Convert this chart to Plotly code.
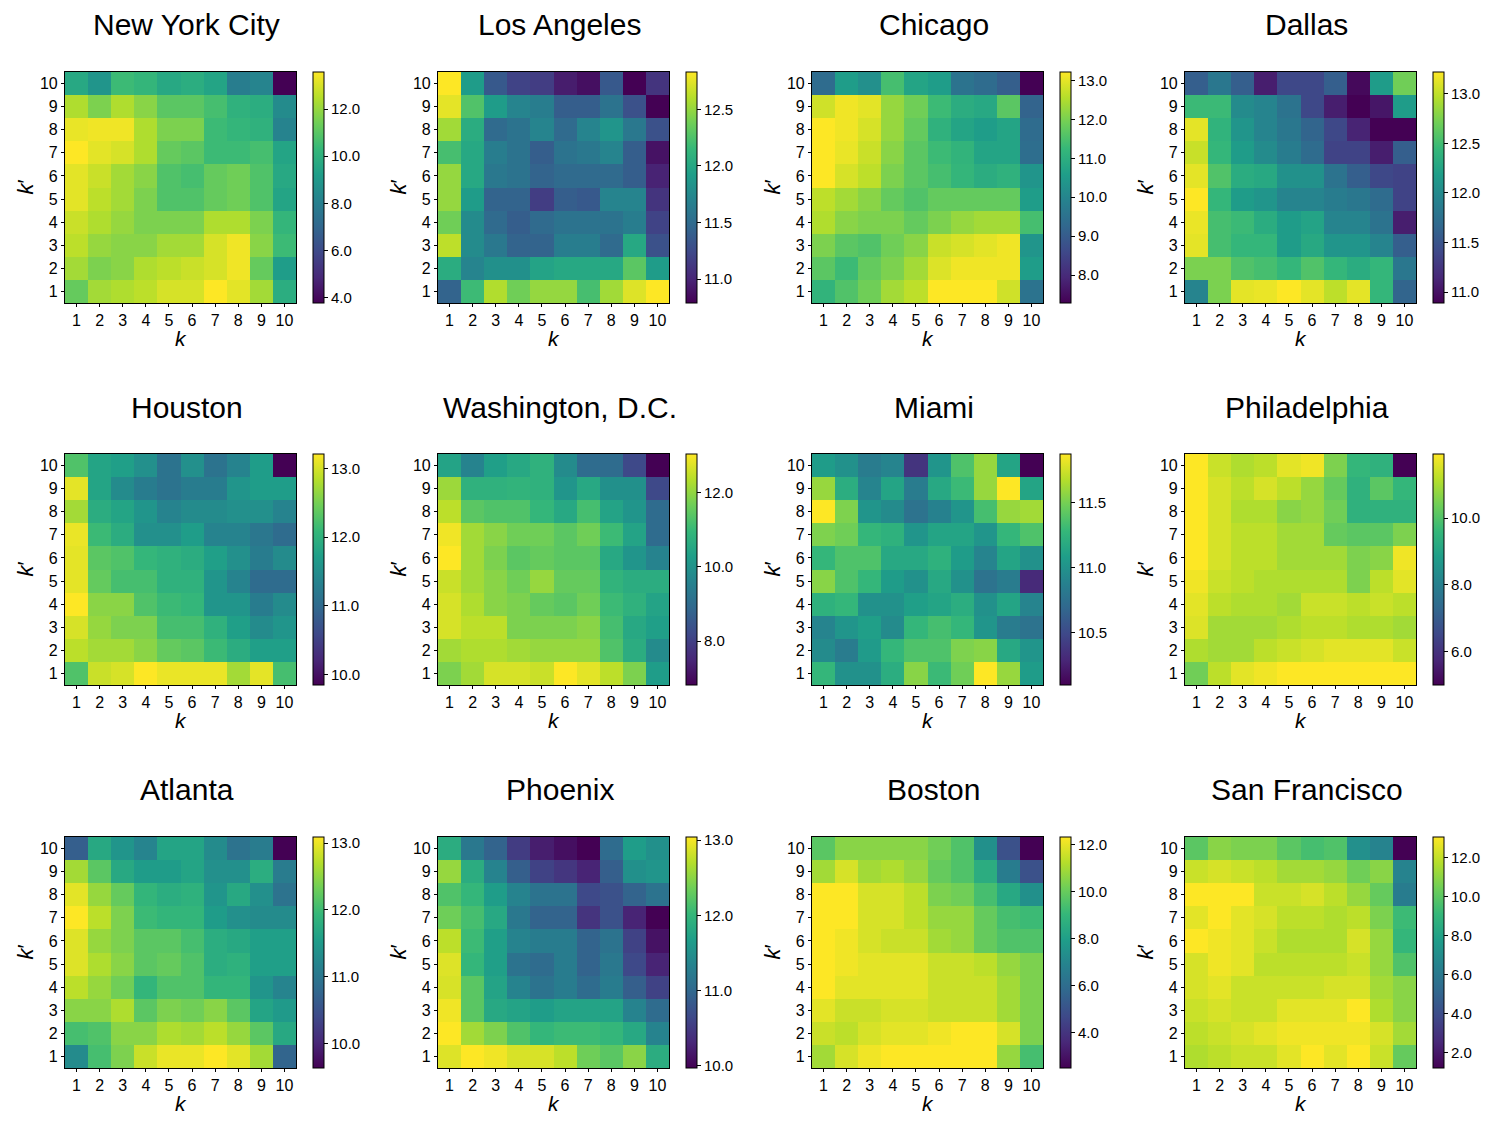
import plotly.graph_objects as go

cities = ["New York City", "Los Angeles", "Chicago", "Dallas",
          "Houston", "Washington, D.C.", "Miami", "Philadelphia",
          "Atlanta", "Phoenix", "Boston", "San Francisco"]

k_vals = list(range(1, 11))
kp_vals = list(range(10, 0, -1))  # rows below go from k'=10 (top) to k'=1 (bottom)

nyc = [
    [9.65, 8.87, 10.44, 10.24, 9.65, 9.85, 9.46, 7.90, 8.20, 3.76],
    [12.40, 11.62, 12.40, 11.81, 11.03, 11.03, 10.63, 10.04, 9.85, 8.47],
    [13.28, 13.38, 13.38, 12.40, 11.62, 11.62, 10.44, 10.24, 10.04, 8.18],
    [13.58, 13.19, 12.99, 12.40, 11.22, 11.03, 10.44, 10.44, 10.63, 9.46],
    [13.19, 12.79, 12.21, 11.81, 10.83, 10.63, 11.22, 11.42, 10.83, 9.65],
    [13.19, 12.60, 12.21, 11.62, 10.83, 10.83, 11.22, 11.42, 10.83, 9.46],
    [12.79, 12.40, 12.01, 11.62, 11.62, 11.62, 12.40, 12.40, 11.62, 10.24],
    [12.60, 12.01, 11.81, 11.81, 12.21, 12.21, 12.99, 13.38, 11.81, 10.44],
    [12.21, 11.62, 11.81, 12.40, 12.60, 12.79, 12.99, 13.38, 11.22, 9.16],
    [11.22, 12.21, 12.40, 12.60, 12.99, 12.99, 13.58, 13.19, 12.21, 9.85],
]

los_angeles = [
    [12.83, 11.91, 11.36, 11.20, 11.16, 10.95, 10.87, 11.36, 10.79, 11.10],
    [12.75, 12.26, 11.91, 11.71, 11.65, 11.40, 11.40, 11.57, 11.30, 10.79],
    [12.54, 12.05, 11.50, 11.57, 11.71, 11.50, 11.71, 11.85, 11.61, 11.30],
    [12.22, 12.01, 11.65, 11.57, 11.40, 11.57, 11.61, 11.71, 11.40, 10.89],
    [12.50, 12.01, 11.61, 11.57, 11.44, 11.50, 11.50, 11.50, 11.40, 10.99],
    [12.50, 11.91, 11.44, 11.44, 11.16, 11.40, 11.36, 11.71, 11.71, 11.10],
    [12.38, 11.77, 11.50, 11.40, 11.50, 11.57, 11.57, 11.57, 11.65, 11.20],
    [12.63, 11.77, 11.61, 11.44, 11.44, 11.65, 11.65, 11.50, 12.01, 11.30],
    [12.05, 11.71, 11.81, 11.81, 11.97, 12.01, 12.01, 12.01, 12.30, 11.91],
    [11.44, 12.18, 12.59, 12.38, 12.50, 12.50, 12.22, 12.54, 12.73, 12.83],
]

chicago = [
    [9.36, 10.55, 10.25, 11.44, 10.73, 10.55, 9.54, 9.36, 9.06, 7.28],
    [12.80, 13.10, 12.98, 12.27, 11.91, 11.32, 10.96, 10.84, 11.68, 9.18],
    [13.22, 13.10, 12.86, 12.27, 11.79, 11.08, 10.73, 10.55, 10.73, 9.36],
    [13.22, 13.04, 12.74, 12.15, 11.68, 11.32, 11.14, 10.73, 10.73, 9.42],
    [13.22, 12.86, 12.63, 12.03, 11.68, 11.44, 11.20, 10.96, 11.08, 10.37],
    [12.63, 12.39, 12.15, 11.79, 11.56, 11.79, 11.79, 11.79, 11.79, 10.55],
    [12.51, 12.15, 12.03, 12.03, 11.79, 12.03, 12.27, 12.39, 12.39, 11.44],
    [12.03, 11.68, 11.56, 11.91, 12.15, 12.74, 12.86, 12.98, 13.10, 10.37],
    [11.68, 11.32, 11.79, 12.03, 12.39, 12.92, 13.10, 13.10, 13.10, 10.55],
    [11.14, 11.56, 11.91, 12.39, 12.63, 13.22, 13.22, 13.22, 12.80, 9.54],
]

dallas = [
    [11.59, 11.82, 11.59, 11.08, 11.40, 11.40, 11.59, 10.94, 12.17, 12.71],
    [12.47, 12.47, 12.01, 11.94, 11.78, 11.40, 11.08, 10.89, 11.03, 12.17],
    [13.13, 12.40, 12.10, 11.94, 11.82, 11.64, 11.40, 11.12, 10.89, 10.89],
    [13.03, 12.43, 12.17, 12.01, 11.87, 11.71, 11.36, 11.36, 11.08, 11.59],
    [13.13, 12.57, 12.33, 12.29, 12.06, 12.06, 11.78, 11.59, 11.40, 11.36],
    [13.22, 12.43, 12.17, 12.10, 11.94, 11.94, 11.87, 11.82, 11.71, 11.36],
    [13.15, 12.52, 12.47, 12.33, 12.17, 12.24, 11.94, 11.94, 11.78, 11.08],
    [13.13, 12.52, 12.43, 12.43, 12.17, 12.29, 12.10, 12.10, 11.94, 11.59],
    [12.75, 12.75, 12.57, 12.52, 12.43, 12.57, 12.43, 12.33, 12.43, 11.82],
    [11.94, 12.75, 13.13, 13.15, 13.22, 13.13, 12.99, 13.13, 12.43, 11.64],
]

houston = [
    [12.27, 11.80, 11.73, 11.53, 11.13, 11.53, 11.13, 11.36, 11.70, 9.85],
    [13.08, 11.80, 11.46, 11.26, 11.13, 11.26, 11.26, 11.60, 11.70, 11.70],
    [12.74, 11.93, 11.80, 11.60, 11.36, 11.46, 11.46, 11.53, 11.53, 11.36],
    [13.11, 12.13, 11.93, 11.53, 11.53, 11.70, 11.36, 11.36, 11.19, 11.03],
    [13.08, 12.34, 12.27, 12.07, 12.00, 11.93, 11.73, 11.53, 11.26, 11.46],
    [13.08, 12.40, 12.20, 12.20, 12.00, 12.00, 11.60, 11.36, 11.03, 11.03],
    [13.21, 12.61, 12.61, 12.27, 12.13, 12.07, 11.60, 11.60, 11.26, 11.46],
    [13.01, 12.67, 12.54, 12.54, 12.20, 12.20, 12.00, 11.73, 11.46, 11.60],
    [12.87, 12.74, 12.74, 12.61, 12.40, 12.34, 12.13, 11.93, 11.73, 11.73],
    [12.27, 12.94, 13.01, 13.21, 13.11, 13.11, 13.11, 12.74, 13.08, 12.20],
]

washington = [
    [10.42, 9.61, 10.30, 10.55, 10.79, 9.80, 8.99, 8.99, 8.19, 6.82],
    [12.10, 10.79, 10.79, 10.86, 10.79, 10.05, 10.55, 9.93, 9.93, 8.19],
    [12.41, 11.42, 11.29, 11.29, 10.92, 10.55, 11.17, 10.42, 10.05, 8.99],
    [12.91, 12.16, 11.91, 11.66, 11.66, 11.42, 11.66, 11.04, 10.42, 8.99],
    [13.03, 12.16, 11.79, 11.42, 11.54, 11.42, 11.42, 10.55, 10.05, 9.61],
    [12.53, 12.16, 11.91, 11.66, 12.04, 11.54, 11.54, 10.86, 10.67, 10.67],
    [12.66, 12.28, 11.91, 11.79, 11.54, 11.42, 11.66, 11.04, 10.79, 10.42],
    [12.66, 12.41, 12.41, 11.79, 11.79, 11.79, 11.91, 11.17, 10.55, 10.30],
    [12.16, 12.28, 12.28, 12.16, 12.04, 12.04, 12.04, 11.29, 10.67, 9.80],
    [11.79, 12.16, 12.66, 12.66, 12.53, 13.03, 12.78, 12.41, 11.79, 10.24],
]

miami = [
    [11.07, 10.99, 10.84, 10.90, 10.37, 11.02, 11.37, 11.59, 11.13, 10.10],
    [11.59, 11.20, 10.90, 11.13, 10.84, 11.16, 11.30, 11.59, 11.87, 11.13],
    [11.87, 11.52, 11.02, 10.95, 10.77, 10.88, 11.02, 11.34, 11.59, 11.62],
    [11.52, 11.48, 11.27, 11.23, 11.02, 11.13, 11.13, 11.02, 11.27, 11.37],
    [11.27, 11.37, 11.37, 11.16, 11.16, 11.23, 11.07, 10.90, 11.13, 10.99],
    [11.55, 11.37, 11.27, 11.07, 10.99, 11.16, 10.99, 10.77, 10.84, 10.31],
    [11.23, 11.27, 10.99, 10.99, 11.09, 11.13, 11.20, 10.99, 11.13, 10.90],
    [10.90, 11.02, 11.09, 10.95, 11.27, 11.34, 11.27, 11.02, 10.84, 10.77],
    [10.95, 10.84, 11.06, 11.27, 11.37, 11.37, 11.52, 11.55, 11.16, 11.02],
    [11.27, 10.99, 10.99, 11.20, 11.55, 11.30, 11.48, 11.87, 11.59, 11.07],
]

philadelphia = [
    [11.92, 11.37, 11.09, 11.23, 11.64, 11.78, 10.54, 9.57, 9.43, 5.00],
    [11.92, 11.50, 11.23, 11.50, 11.23, 10.81, 10.26, 9.43, 10.12, 9.57],
    [11.92, 11.50, 11.09, 11.09, 10.67, 10.81, 10.40, 9.43, 9.43, 9.43],
    [11.92, 11.50, 11.23, 11.23, 10.95, 10.95, 10.26, 10.12, 10.12, 10.54],
    [11.92, 11.50, 11.23, 11.23, 10.95, 10.95, 10.95, 10.54, 10.67, 11.78],
    [11.78, 11.37, 11.23, 11.09, 11.09, 11.09, 11.09, 10.54, 11.23, 11.64],
    [11.64, 11.23, 11.09, 11.09, 10.95, 11.37, 11.37, 11.23, 11.37, 11.23],
    [11.57, 10.95, 10.95, 10.95, 11.09, 11.23, 11.23, 11.09, 11.09, 10.95],
    [11.09, 10.95, 10.95, 11.23, 11.37, 11.50, 11.64, 11.64, 11.64, 11.37],
    [10.40, 11.23, 11.64, 11.78, 11.92, 11.92, 11.92, 11.92, 11.92, 11.92],
]

atlanta = [
    [10.67, 11.71, 11.43, 11.19, 11.64, 11.64, 11.29, 10.94, 11.08, 9.63],
    [12.61, 12.19, 11.71, 11.53, 11.53, 11.64, 11.36, 11.36, 11.78, 11.08],
    [12.95, 12.54, 12.26, 11.91, 11.78, 11.84, 11.43, 11.71, 11.36, 10.94],
    [13.09, 12.74, 12.40, 11.98, 11.91, 11.91, 11.53, 11.36, 11.29, 11.29],
    [12.92, 12.54, 12.40, 12.19, 12.19, 12.05, 11.78, 11.71, 11.57, 11.57],
    [12.92, 12.67, 12.47, 12.19, 12.26, 12.12, 11.78, 11.84, 11.57, 11.57],
    [12.74, 12.54, 12.33, 11.91, 12.12, 12.12, 11.91, 11.91, 11.43, 11.19],
    [12.47, 12.47, 12.67, 12.19, 12.40, 12.33, 12.47, 12.19, 11.64, 11.50],
    [12.05, 12.12, 12.47, 12.47, 12.67, 12.61, 12.74, 12.54, 12.19, 11.71],
    [11.29, 12.05, 12.40, 12.81, 12.99, 12.99, 13.09, 12.95, 12.61, 10.74],
]

phoenix = [
    [11.87, 11.20, 10.95, 10.52, 10.22, 10.09, 9.97, 11.04, 11.66, 11.51],
    [12.55, 11.87, 11.35, 10.89, 10.58, 10.46, 10.28, 10.89, 11.51, 11.57],
    [12.18, 12.00, 11.66, 11.35, 11.14, 11.14, 10.65, 10.74, 10.95, 11.14],
    [12.36, 12.12, 11.81, 11.20, 10.95, 10.95, 10.43, 10.74, 10.28, 9.97],
    [12.73, 12.06, 11.69, 11.35, 11.26, 11.26, 10.95, 11.14, 10.58, 10.12],
    [12.89, 12.00, 11.69, 11.14, 11.04, 11.26, 10.95, 11.20, 10.65, 10.28],
    [12.86, 12.24, 11.75, 11.35, 11.14, 11.26, 11.04, 11.26, 10.89, 10.58],
    [12.98, 12.24, 11.81, 11.75, 11.66, 11.75, 11.75, 11.75, 11.35, 11.04],
    [13.04, 12.61, 12.43, 12.18, 12.00, 12.06, 12.06, 12.00, 11.81, 11.35],
    [12.89, 13.04, 12.98, 12.86, 12.86, 12.73, 12.36, 12.24, 12.49, 11.87],
]

boston = [
    [9.75, 10.54, 10.54, 10.54, 10.54, 10.15, 9.56, 7.40, 4.94, 2.48],
    [10.93, 11.72, 10.93, 11.13, 10.74, 9.95, 9.56, 8.57, 6.61, 4.94],
    [12.31, 12.31, 11.72, 11.72, 11.33, 10.34, 10.15, 9.36, 8.38, 7.40],
    [12.31, 12.31, 11.72, 11.72, 11.33, 10.74, 10.74, 9.95, 9.36, 9.16],
    [12.31, 12.11, 11.72, 11.52, 11.52, 10.93, 10.74, 9.95, 9.56, 9.56],
    [12.31, 12.11, 11.92, 11.92, 11.92, 11.52, 11.52, 11.33, 10.74, 10.34],
    [12.31, 11.92, 11.92, 11.92, 11.92, 11.52, 11.52, 11.52, 10.93, 10.34],
    [11.92, 11.52, 11.52, 11.72, 11.72, 11.52, 11.52, 11.52, 10.93, 10.34],
    [11.52, 11.33, 11.72, 11.92, 11.92, 12.11, 12.31, 12.31, 11.72, 10.34],
    [10.93, 11.72, 12.11, 12.31, 12.31, 12.31, 12.31, 12.31, 10.74, 9.36],
]

san_francisco = [
    [9.98, 10.93, 10.69, 10.69, 9.98, 9.50, 9.74, 7.13, 6.54, 1.20],
    [12.11, 12.35, 12.11, 11.87, 11.40, 11.40, 11.16, 10.45, 10.93, 6.54],
    [13.06, 13.06, 13.06, 12.11, 12.11, 12.35, 11.87, 11.16, 10.21, 6.18],
    [12.59, 13.06, 12.59, 12.35, 11.87, 11.87, 11.64, 11.87, 10.69, 9.26],
    [13.06, 12.82, 12.59, 12.11, 11.64, 11.64, 11.64, 12.35, 11.16, 9.03],
    [12.35, 12.82, 12.59, 11.87, 11.87, 11.87, 11.87, 12.11, 11.16, 9.74],
    [12.35, 12.59, 12.11, 12.11, 12.11, 12.11, 12.35, 12.35, 11.40, 10.93],
    [12.11, 12.35, 12.11, 12.11, 12.59, 12.59, 12.59, 13.06, 11.64, 10.93],
    [11.87, 12.11, 12.35, 12.59, 12.82, 12.82, 12.82, 12.82, 12.35, 11.40],
    [11.64, 11.87, 12.11, 12.11, 12.59, 13.06, 12.59, 13.06, 12.11, 10.21],
]

matrices = [nyc, los_angeles, chicago, dallas, houston, washington,
            miami, philadelphia, atlanta, phoenix, boston, san_francisco]
cbar_steps = [2, 0.5, 1, 0.5, 1, 2, 0.5, 2, 1, 1, 2, 2]

# the page body has an 8px margin, so page pixels are shifted by OFF
OFF = 8
W, H = 1494 - 2 * OFF, 1125 - 2 * OFF
col_x = [65, 438, 812, 1185]   # left edge of each heatmap, page px
row_y = [72, 454, 837]         # top edge of each heatmap, page px
SIZE = 231
FONT = "Arial, Liberation Sans, sans-serif"


def px(p):
    return (p - OFF) / W


def py(p):
    return 1 - (p - OFF) / H


fig = go.Figure()
annotations = []

for i, (city, z) in enumerate(zip(cities, matrices)):
    r, c = divmod(i, 4)
    x0, y0 = col_x[c], row_y[r]
    n = "" if i == 0 else str(i + 1)

    fig.add_trace(go.Heatmap(
        z=z, x=k_vals, y=kp_vals,
        colorscale="Viridis",
        xaxis="x" + n, yaxis="y" + n,
        colorbar=dict(
            x=px(x0 + 248), xanchor="left",
            y=py(y0), yanchor="top",
            len=SIZE / H, lenmode="fraction",
            thickness=11, xpad=0, ypad=0,
            outlinewidth=1, outlinecolor="black",
            ticks="outside", ticklen=4, tickcolor="black",
            tickmode="linear", tick0=0, dtick=cbar_steps[i],
            tickformat=".1f",
            tickfont=dict(size=15, color="black", family=FONT),
        ),
    ))

    axis_common = dict(
        range=[0.5, 10.5], tickvals=k_vals,
        ticks="outside", ticklen=3, tickcolor="black",
        showline=True, linecolor="black", linewidth=1.2, mirror=True,
        showgrid=False, zeroline=False,
        tickfont=dict(size=16, color="black", family=FONT),
    )
    fig.layout["xaxis" + n] = dict(axis_common, anchor="y" + n,
                                   domain=[px(x0), px(x0 + SIZE)])
    fig.layout["yaxis" + n] = dict(axis_common, anchor="x" + n,
                                   domain=[py(y0 + SIZE), py(y0)])

    cx = px(x0 + SIZE / 2)
    annotations.append(dict(text=city, x=px(x0 + SIZE / 2 + 6), y=py(y0 - 47),
                            xref="paper", yref="paper", showarrow=False,
                            xanchor="center", yanchor="middle",
                            font=dict(size=30, color="black", family=FONT)))
    annotations.append(dict(text="<i>k</i>", x=cx, y=py(y0 + SIZE + 35),
                            xref="paper", yref="paper", showarrow=False,
                            xanchor="center", yanchor="middle",
                            font=dict(size=21, color="black", family=FONT)))
    annotations.append(dict(text="<i>k</i>′", x=px(x0 - 40),
                            y=py(y0 + SIZE / 2),
                            xref="paper", yref="paper", showarrow=False,
                            xanchor="center", yanchor="middle", textangle=-90,
                            font=dict(size=22, color="black", family=FONT)))

fig.update_layout(
    width=W, height=H,
    margin=dict(l=0, r=0, t=0, b=0, pad=0),
    paper_bgcolor="white", plot_bgcolor="white",
    annotations=annotations,
    font=dict(family=FONT, color="black"),
)

fig.write_html("out.html")
